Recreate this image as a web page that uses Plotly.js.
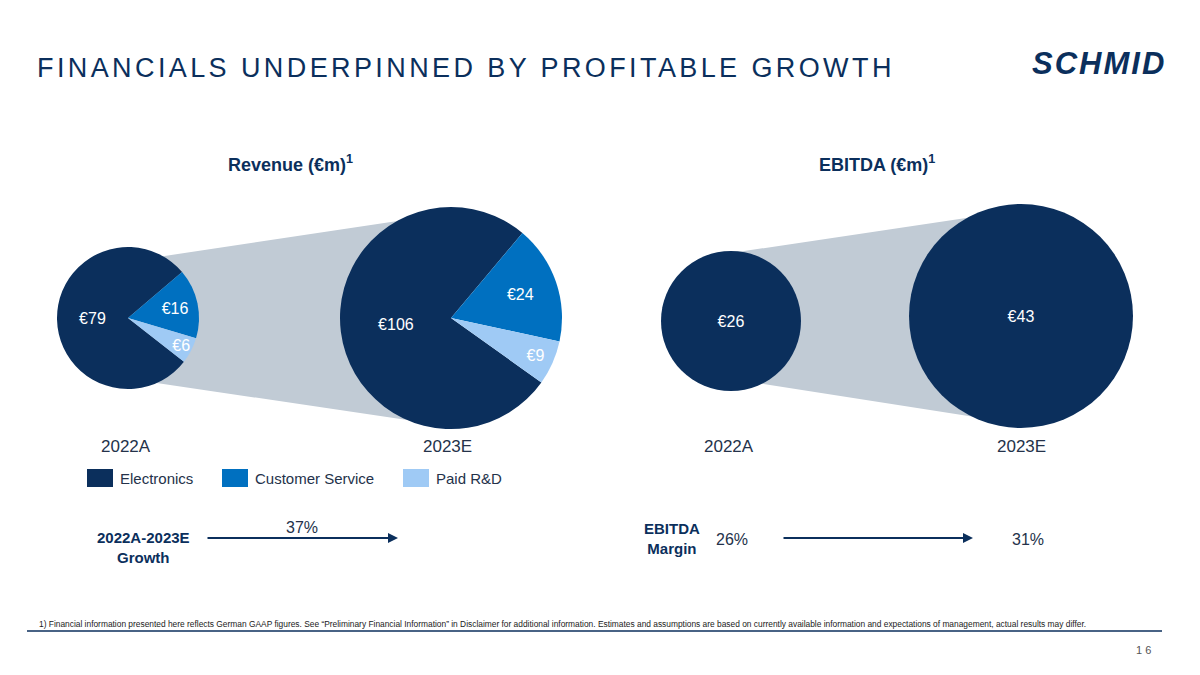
<!DOCTYPE html>
<html>
<head>
<meta charset="utf-8">
<script src="https://cdn.plot.ly/plotly-3.0.1.min.js"></script>
<style>
html,body{margin:0;padding:0;background:#fff;}
#chart{width:1200px;height:675px;}
.gtitle{letter-spacing:3.4px;}
.annotation[data-index="0"] text{letter-spacing:2px;}
</style>
</head>
<body>
<div id="chart"></div>
<script>
// ---- data ----
var years = ['2022A', '2023E'];
var segments = ['Electronics', 'Customer Service', 'Paid R&D'];
var revenue2022 = [79, 16, 6];
var revenue2023 = [106, 24, 9];
var ebitda = [26, 43];
var revenueGrowth = '37%';
var ebitdaMargin = ['26%', '31%'];
var footnote = '1) Financial information presented here reflects German GAAP figures. See \u201cPreliminary Financial Information\u201d in Disclaimer for additional information. Estimates and assumptions are based on currently available information and expectations of management, actual results may differ.';

// ---- styling ----
var W = 1200, H = 675;
var NAVY = '#0b2f5c', BLUE = '#0070c0', LIGHT = '#9fcaf5', GREY = '#c1cbd5', TXT = '#24324a';
var segColors = [NAVY, BLUE, LIGHT];
var FONT = 'Liberation Sans, Arial, sans-serif';

function px(x) { return x / W; }
function py(y) { return 1 - y / H; }
function dom(cx, cy, r) { return {x: [px(cx - r), px(cx + r)], y: [py(cy + r), py(cy - r)]}; }

var pieCommon = {
  type: 'pie', sort: false, direction: 'clockwise', hole: 0,
  texttemplate: '\u20ac%{value}', textposition: 'inside', insidetextorientation: 'horizontal',
  textfont: {family: FONT, size: 16, color: '#ffffff'},
  hoverinfo: 'skip', showlegend: false
};

var traces = [
  Object.assign({}, pieCommon, {labels: segments, values: revenue2022, rotation: 128,
    marker: {colors: segColors, line: {width: 0}}, domain: dom(128, 318, 71)}),
  Object.assign({}, pieCommon, {labels: segments, values: revenue2023, rotation: 125.5,
    marker: {colors: segColors, line: {width: 0}}, domain: dom(451, 318, 111)}),
  Object.assign({}, pieCommon, {labels: ['EBITDA'], values: [ebitda[0]], rotation: 0,
    marker: {colors: [NAVY], line: {width: 0}}, domain: dom(731, 321, 70)}),
  Object.assign({}, pieCommon, {labels: ['EBITDA'], values: [ebitda[1]], rotation: 0,
    marker: {colors: [NAVY], line: {width: 0}}, domain: dom(1021, 316, 112)})
];

function poly(pts) {
  return 'M' + pts.map(function (p) { return px(p[0]) + ',' + py(p[1]); }).join(' L') + ' Z';
}

var shapes = [
  {type: 'path', xref: 'paper', yref: 'paper', layer: 'below', fillcolor: GREY, line: {width: 0},
   path: poly([[128, 261.5], [451, 212.9], [451, 426.4], [128, 378.8]])},
  {type: 'path', xref: 'paper', yref: 'paper', layer: 'below', fillcolor: GREY, line: {width: 0},
   path: poly([[731, 253.0], [1021, 209.9], [1021, 424.3], [731, 378.8]])},
  {type: 'line', xref: 'paper', yref: 'paper', x0: px(27), x1: px(1162), y0: py(631), y1: py(631),
   line: {color: NAVY, width: 1.5}}
];

var annotations = [];
function ann(text, x, y, opts) {
  annotations.push(Object.assign({text: text, x: px(x), y: py(y), xref: 'paper', yref: 'paper',
    showarrow: false, xanchor: 'center', yanchor: 'middle',
    font: {family: FONT, size: 16, color: TXT}}, opts || {}));
}

// logo (index 0)
ann('<i>SCHMID</i>', 1099, 63, {font: {family: 'Liberation Sans, Arial', size: 31, color: NAVY, weight: 900}});
// footnote
ann(footnote, 37, 624, {xanchor: 'left', font: {family: FONT, size: 8.4, color: '#1a1a1a'}});

// section headings
ann('<b>Revenue (\u20acm)<sup>1</sup></b>', 290, 163, {font: {family: FONT, size: 18, color: NAVY}});
ann('<b>EBITDA (\u20acm)<sup>1</sup></b>', 877, 163, {font: {family: FONT, size: 18, color: NAVY}});

// year labels
ann(years[0], 126, 446, {font: {family: FONT, size: 17, color: TXT}});
ann(years[1], 447, 446, {font: {family: FONT, size: 17, color: TXT}});
ann(years[0], 729, 446, {font: {family: FONT, size: 17, color: TXT}});
ann(years[1], 1021, 446, {font: {family: FONT, size: 17, color: TXT}});

// legend
var legX = [87, 222, 403];
segments.forEach(function (s, i) {
  shapes.push({type: 'rect', xref: 'paper', yref: 'paper', x0: px(legX[i]), x1: px(legX[i] + 26),
    y0: py(487), y1: py(469), fillcolor: segColors[i], line: {width: 0}});
  ann(s, legX[i] + 31, 478, {xanchor: 'left', font: {family: FONT, size: 15, color: TXT}});
});

// growth row
ann('<b>2022A-2023E</b><br><b>Growth</b>', 143, 547, {font: {family: FONT, size: 15, color: NAVY}});
ann(revenueGrowth, 302, 527);
annotations.push({text: '', x: px(398), y: py(538), xref: 'paper', yref: 'paper', showarrow: true,
  ax: -192, ay: 0, arrowhead: 2, arrowsize: 1, arrowwidth: 2, arrowcolor: NAVY});

// margin row
ann('<b>EBITDA</b><br><b>Margin</b>', 672, 538, {font: {family: FONT, size: 15, color: NAVY}});
ann(ebitdaMargin[0], 732, 539);
ann(ebitdaMargin[1], 1028, 539);
annotations.push({text: '', x: px(973), y: py(538), xref: 'paper', yref: 'paper', showarrow: true,
  ax: -191, ay: 0, arrowhead: 2, arrowsize: 1, arrowwidth: 2, arrowcolor: NAVY});

// page number
ann('1 6', 1143, 650, {font: {family: FONT, size: 11, color: '#555555'}});

var layout = {
  width: W, height: H, autosize: false,
  margin: {l: 0, r: 0, t: 0, b: 0},
  paper_bgcolor: '#ffffff', plot_bgcolor: '#ffffff',
  title: {text: 'FINANCIALS UNDERPINNED BY PROFITABLE GROWTH', x: px(37), xanchor: 'left',
    xref: 'paper', y: py(68), yref: 'paper', yanchor: 'middle',
    font: {family: FONT, size: 27, color: NAVY}},
  uniformtext: {minsize: 16, mode: 'show'},
  shapes: shapes,
  annotations: annotations,
  showlegend: false
};

Plotly.newPlot('chart', traces, layout, {displayModeBar: false, staticPlot: true});
</script>
</body>
</html>
